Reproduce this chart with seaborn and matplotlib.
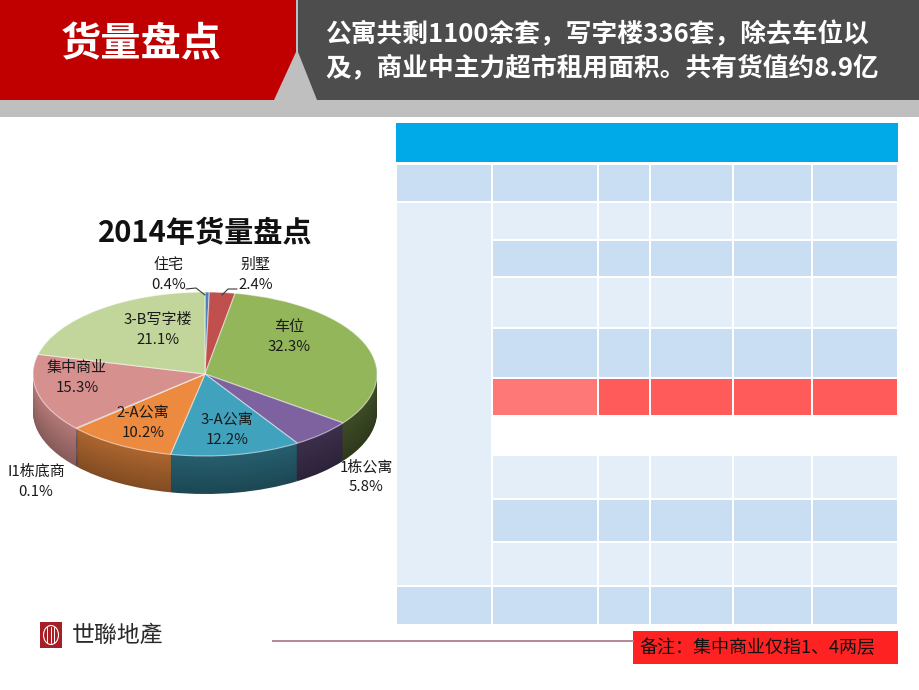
import numpy as np
import matplotlib
matplotlib.use("Agg")
import matplotlib.pyplot as plt
from matplotlib.patches import Rectangle, Polygon, Ellipse
import matplotlib.colors as mcolors
import seaborn as sns

# ---------------- data ----------------
categories = ["住宅", "别墅", "车位", "1栋公寓", "3-A公寓", "2-A公寓", "I1栋底商", "集中商业", "3-B写字楼"]
shares = [0.4, 2.4, 32.3, 5.8, 12.2, 10.2, 0.1, 15.3, 21.1]
slice_colors = ["#4F81BD", "#C0504D", "#93B65A", "#7E62A0", "#41A2BE",
                "#EC8A3F", "#2C4D75", "#D6908E", "#C2D69B"]

chart_title = "2014年货量盘点"
header_title = "货量盘点"
header_lines = ["公寓共剩1100余套，写字楼336套，除去车位以",
                "及，商业中主力超市租用面积。共有货值约8.9亿"]
note_text = "备注：集中商业仅指1、4两层"
logo_text = "世聯地產"

# ---------------- style ----------------
sns.set_theme(style="white")
plt.rcParams['font.family'] = ['Noto Sans CJK SC', 'DejaVu Sans']

W, H = 920, 690
fig = plt.figure(figsize=(W / 100, H / 100), dpi=100)
fig.patch.set_facecolor("white")


def px_axes(z):
    ax = fig.add_axes([0, 0, 1, 1], zorder=z)
    ax.set_xlim(0, W)
    ax.set_ylim(H, 0)
    ax.axis('off')
    ax.patch.set_alpha(0)
    return ax


bg = px_axes(0)


def rect(ax, x0, y0, x1, y1, color, **kw):
    ax.add_patch(Rectangle((x0, y0), x1 - x0, y1 - y0, facecolor=color,
                           edgecolor='none', **kw))


# ---------------- header ----------------
rect(bg, 0, 0, W, 117, "#BFBFBF")
bg.add_patch(Polygon([(0, 0), (296, 0), (296, 52), (274, 100), (0, 100)],
                     closed=True, facecolor="#C00000", edgecolor='none'))
bg.add_patch(Polygon([(298, 0), (W, 0), (W, 100), (317, 100), (298, 52)],
                     closed=True, facecolor="#4D4D4D", edgecolor='none'))
bg.text(141, 45, header_title, color="white", fontsize=29, fontweight='bold',
        ha='center', va='center')
for i, line in enumerate(header_lines):
    bg.text(325, 35 + 33 * i, line, color="white", fontsize=18.5,
            fontweight='bold', ha='left', va='center')

# ---------------- table (empty) ----------------
BLUE, DARK, LIGHT = "#00AAE9", "#CADEF3", "#E4EEF9"
RED, RED2 = "#FF5B5B", "#FF7878"
col_edges = [396, 492, 598, 650, 733, 812, 898]


def cell(c, y0, y1, color):
    rect(bg, col_edges[c] + 1, y0, col_edges[c + 1] - 1, y1, color)


rect(bg, 396, 123, 898, 162, BLUE)
for c in range(6):
    cell(c, 165, 201, DARK)
cell(0, 203, 585, LIGHT)
body_rows = [(203, 239, LIGHT), (241, 276, DARK), (278, 327, LIGHT),
             (329, 377, DARK), (379, 415, RED), (456, 498, LIGHT),
             (500, 541, DARK), (543, 585, LIGHT)]
for y0, y1, col in body_rows:
    for c in range(1, 6):
        colr = RED2 if (col == RED and c == 1) else col
        cell(c, y0, y1, colr)
for c in range(6):
    cell(c, 587, 624, DARK)

# ---------------- footer ----------------
bg.plot([272, 634], [641, 641], color="#B07C8A", lw=1.3, solid_capstyle='butt')
rect(bg, 633, 631, 898, 664, "#FF2222")
bg.text(639, 648, note_text, fontsize=13, color="#111111", ha='left', va='center')
rect(bg, 40, 622, 62, 648, "#A81E24")
bg.add_patch(Ellipse((51, 635), 15, 19, facecolor='none', edgecolor='white', lw=0.8))
for xx in (47.5, 51, 54.5):
    bg.plot([xx, xx], [627, 643], color='white', lw=0.7)
bg.text(72, 635, logo_text, fontsize=16.5, color="#2A2A2A", ha='left', va='center',
        family=['Noto Sans CJK TC', 'DejaVu Sans'])

# ---------------- 3D-looking pie ----------------
CX, CY, RX, RY = 205, 374, 172, 82
DEPTH = 38
X0, Y0, X1, Y1 = 0, 200, 400, 520
pax = fig.add_axes([X0 / W, 1 - Y1 / H, (X1 - X0) / W, (Y1 - Y0) / H], zorder=1)

total = float(np.sum(shares))
cum = np.cumsum([0] + list(shares[:-1]))
mid_deg = 90 - 360 * (cum + np.array(shares) / 2) / total
base_rgb = np.array([mcolors.to_rgb(c) for c in slice_colors])
side_factor = 0.62 - 0.22 * np.cos(np.radians(mid_deg))

N = 40
for k in range(N - 1, -1, -1):
    off = DEPTH * (k + 1) / N / RY
    shade = side_factor * (1 - 0.25 * k / N)
    cols = [tuple(np.clip(base_rgb[i] * shade[i], 0, 1)) for i in range(len(shares))]
    pax.pie(shares, colors=cols, startangle=90, counterclock=False,
            center=(0, -off), radius=1, wedgeprops=dict(linewidth=0))
pax.pie(shares, colors=slice_colors, startangle=90, counterclock=False,
        center=(0, 0), radius=1,
        wedgeprops=dict(linewidth=0.8, edgecolor=(1, 1, 1, 0.55)))
pax.set_aspect('auto')
pax.set_xlim((X0 - CX) / RX, (X1 - CX) / RX)
pax.set_ylim((CY - Y1) / RY, (CY - Y0) / RY)
pax.axis('off')

# ---------------- labels on top ----------------
top = px_axes(2)
top.text(205, 233, chart_title, fontsize=21, fontweight='bold', color="#111111",
         ha='center', va='center')
label_pos = {
    "住宅": (169, 265), "别墅": (256, 265), "车位": (289, 327),
    "1栋公寓": (366, 467), "3-A公寓": (227, 420), "2-A公寓": (143, 413),
    "I1栋底商": (36, 472), "集中商业": (77, 368), "3-B写字楼": (158, 320),
}
for name, val in zip(categories, shares):
    x, y = label_pos[name]
    top.text(x, y, name, fontsize=10.8, color="#1A1A1A", ha='center', va='center')
    top.text(x, y + 20, f"{val:.1f}%", fontsize=10.8, color="#1A1A1A",
             ha='center', va='center')
top.plot([186, 196, 205], [289, 288, 295], color="#3A3A3A", lw=0.8)
top.plot([237, 228, 222], [289, 289, 295], color="#3A3A3A", lw=0.8)

fig.savefig("out.png", dpi=100, facecolor="white")
